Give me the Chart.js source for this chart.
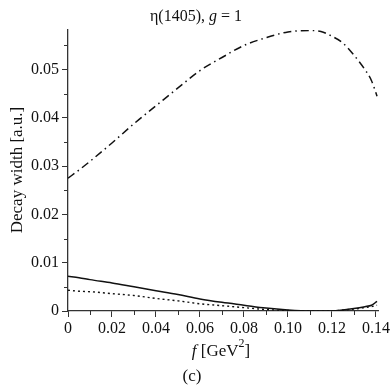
<!DOCTYPE html>
<html>
<head>
<meta charset="utf-8">
<script src="https://cdn.jsdelivr.net/npm/chart.js@4"></script>
<style>
  html, body { margin: 0; padding: 0; background: #fff; }
  #wrap { width: 392px; height: 392px; }
</style>
</head>
<body>
<div id="wrap"><canvas id="chart" width="392" height="392"></canvas></div>
<script>
// f values [GeV^2] shared by the three curves
const fValues = [0, 0.005, 0.01, 0.02, 0.03, 0.04, 0.05, 0.06, 0.07, 0.08, 0.09, 0.10,
  0.11, 0.115, 0.12, 0.125, 0.13, 0.135, 0.138, 0.1405];
// dash-dot curve
const widthDashDot = [0.0275, 0.0292, 0.0310, 0.0348, 0.0388, 0.0425, 0.0462, 0.0498, 0.0525,
  0.0550, 0.0566, 0.0578, 0.0581, 0.0579, 0.0569, 0.0555, 0.0530, 0.0500, 0.0477, 0.0445];
// solid curve
const widthSolid = [0.0072, 0.0069, 0.0065, 0.0058, 0.0050, 0.0042, 0.0034, 0.0025, 0.0018,
  0.0012, 0.0006, 0.0002, 0.0, 0.0, 0.0, 0.0002, 0.0005, 0.0009, 0.0012, 0.0020];
// dotted curve
const widthDotted = [0.0043, 0.0041, 0.0040, 0.0036, 0.0032, 0.0026, 0.0021, 0.0015, 0.0011,
  0.0007, 0.0003, 0.0001, 0.0, 0.0, 0.0, 0.0002, 0.0004, 0.0007, 0.0009, 0.0012];

const xTicks = [0, 0.02, 0.04, 0.06, 0.08, 0.10, 0.12, 0.14];
const xTickLabels = ["0", "0.02", "0.04", "0.06", "0.08", "0.10", "0.12", "0.14"];
const yTicks = [0, 0.01, 0.02, 0.03, 0.04, 0.05];
const yTickLabels = ["0", "0.01", "0.02", "0.03", "0.04", "0.05"];
const xMinor = [0.01, 0.03, 0.05, 0.07, 0.09, 0.11, 0.13];
const yMinor = [0.005, 0.015, 0.025, 0.035, 0.045, 0.055];

const SERIF = "'Liberation Serif', 'DejaVu Serif', serif";
const AXIS = "#333";

const toPoints = ys => fValues.map((f, i) => ({ x: f, y: ys[i] }));

function drawRuns(ctx, runs, x, y, align) {
  // runs: [text, font, dy]
  let total = 0;
  runs.forEach(r => { ctx.font = r[1]; total += ctx.measureText(r[0]).width; });
  let cx = align === "center" ? x - total / 2 : x;
  ctx.textAlign = "left";
  runs.forEach(r => {
    ctx.font = r[1];
    ctx.fillText(r[0], cx, y + (r[2] || 0));
    cx += ctx.measureText(r[0]).width;
  });
}

const labelsPlugin = {
  id: "labels",
  afterDraw(chart) {
    const ctx = chart.ctx;
    const xs = chart.scales.x, ys = chart.scales.y;
    const area = chart.chartArea;
    ctx.save();
    // minor ticks
    ctx.strokeStyle = AXIS;
    ctx.lineWidth = 1;
    ctx.beginPath();
    xMinor.forEach(v => {
      const px = Math.round(xs.getPixelForValue(v)) + 0.5;
      ctx.moveTo(px, area.bottom); ctx.lineTo(px, area.bottom + 4);
    });
    yMinor.forEach(v => {
      const py = Math.round(ys.getPixelForValue(v)) + 0.5;
      ctx.moveTo(area.left - 4, py); ctx.lineTo(area.left, py);
    });
    ctx.stroke();

    ctx.fillStyle = "#111";
    ctx.textBaseline = "middle";
    // title
    drawRuns(ctx, [
      ["\u03B7(1405), ", "16px " + SERIF],
      ["g", "italic 16px " + SERIF],
      [" = 1", "16px " + SERIF]
    ], 196, 17, "center");
    // x axis title
    drawRuns(ctx, [
      ["f", "italic 17px " + SERIF],
      [" [GeV", "17px " + SERIF],
      ["2", "12px " + SERIF, -8],
      ["]", "17px " + SERIF]
    ], 221, 352, "center");
    ctx.font = "17px " + SERIF;
    ctx.textAlign = "center";
    ctx.fillText("(c)", 192, 377);
    // y axis title
    ctx.translate(18, 170);
    ctx.rotate(-Math.PI / 2);
    ctx.font = "17px " + SERIF;
    ctx.fillText("Decay width [a.u.]", 0, 0);
    ctx.restore();
  }
};

new Chart(document.getElementById("chart"), {
  type: "line",
  data: {
    datasets: [
      { label: "dash-dot", data: toPoints(widthDashDot), borderColor: "#111", borderWidth: 1.5,
        borderDash: [8, 4, 1.5, 4] },
      { label: "solid", data: toPoints(widthSolid), borderColor: "#111", borderWidth: 1.5 },
      { label: "dotted", data: toPoints(widthDotted), borderColor: "#111", borderWidth: 1.4,
        borderDash: [2, 3] }
    ]
  },
  options: {
    responsive: false,
    animation: false,
    layout: { padding: { left: 0, right: 12, top: 30, bottom: 0 } },
    elements: { point: { radius: 0 }, line: { cubicInterpolationMode: "monotone", fill: false } },
    plugins: { legend: { display: false }, title: { display: false }, tooltip: { enabled: false } },
    scales: {
      x: {
        type: "linear", min: 0, max: 0.141,
        afterFit(scale) { scale.height = 81; },
        afterBuildTicks(scale) { scale.ticks = xTicks.map(v => ({ value: v })); },
        ticks: {
          maxRotation: 0, padding: 2, color: "#111",
          font: { family: SERIF, size: 16 },
          callback: v => xTickLabels[xTicks.findIndex(t => Math.abs(t - v) < 1e-9)]
        },
        grid: { drawOnChartArea: false, tickLength: 6, color: AXIS },
        border: { display: true, color: AXIS, width: 1.3 }
      },
      y: {
        type: "linear", min: 0, max: 0.0582,
        afterFit(scale) { scale.width = 68; },
        afterBuildTicks(scale) { scale.ticks = yTicks.map(v => ({ value: v })); },
        ticks: {
          padding: 3, color: "#111",
          font: { family: SERIF, size: 16 },
          callback: v => yTickLabels[yTicks.findIndex(t => Math.abs(t - v) < 1e-9)]
        },
        grid: { drawOnChartArea: false, tickLength: 6, color: AXIS },
        border: { display: true, color: AXIS, width: 1.3 }
      }
    }
  },
  plugins: [labelsPlugin]
});
</script>
</body>
</html>
